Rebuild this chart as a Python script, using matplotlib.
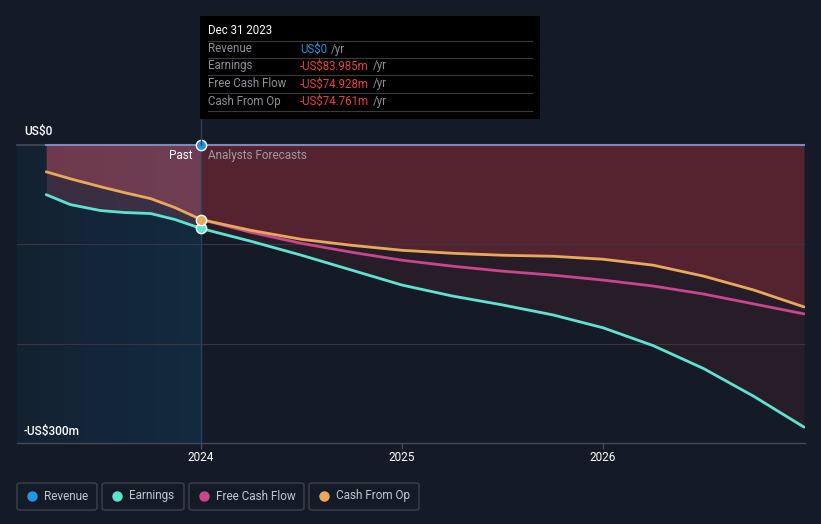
import numpy as np
import matplotlib
matplotlib.use("Agg")
import matplotlib.pyplot as plt
from matplotlib.patches import FancyBboxPatch, Rectangle
from matplotlib.lines import Line2D
from matplotlib.colors import LinearSegmentedColormap

plt.rcParams['font.family'] = ['Roboto', 'DejaVu Sans']

# data (US$m)
years = [2023.23, 2023.35, 2023.5, 2023.62, 2023.75, 2023.87, 2024.0,
         2024.25, 2024.5, 2024.75, 2025.0, 2025.25, 2025.5, 2025.75,
         2026.0, 2026.25, 2026.5, 2026.75, 2027.0]
revenue = [0] * len(years)
earnings = [-50, -60, -66, -68, -69, -75, -84, -97, -111, -126, -141,
            -152, -161, -171, -184, -202, -225, -253, -284]
fcf = [np.nan] * 6 + [-75, -88, -99, -108, -116, -122, -127, -131,
                      -136, -142, -150, -160, -170]
cash_op = [-27, -34, -42, -48, -54, -63, -75, -86, -95, -101, -106,
           -109, -111, -112, -115, -121, -132, -146, -163]

tick_years = [2024, 2025, 2026]
legend_names = ["Revenue", "Earnings", "Free Cash Flow", "Cash From Op"]
tooltip_vals = ["US$0", "-US$83.985m", "-US$74.928m", "-US$74.761m"]

bg = "#151b26"
c_rev = "#2394df"
c_earn = "#5ee3d1"
c_fcf = "#c9468c"
c_cop = "#e8a95b"
colors = [c_rev, c_earn, c_fcf, c_cop]

W, H = 821, 524
fig = plt.figure(figsize=(W / 100, H / 100), dpi=100, facecolor=bg)


def fx(px):
    return px / W


def fy(py):
    return 1 - py / H


ax = fig.add_axes([fx(17), fy(443), fx(805) - fx(17), fy(145) - fy(443)])
ax.set_facecolor(bg)
x0, x1 = 2024 - 184 / 201, 2024 + 604 / 201
ax.set_xlim(x0, x1)
ax.set_ylim(-300, 0)

# past shading gradient
grad = np.linspace(0.0, 1.0, 200).reshape(1, -1)
cmap = LinearSegmentedColormap.from_list("past", ["#142231", "#132a40"])
ax.imshow(grad, extent=[x0, 2024, -300, 0], aspect="auto", cmap=cmap, zorder=0)

yrs = np.array(years)
earn = np.array(earnings)
cop = np.array(cash_op)
past = yrs <= 2024.0
ax.fill_between(yrs, 0, cop, color="#c0303e", alpha=0.38, lw=0, zorder=1)
ax.fill_between(yrs, cop, earn, color="#b0303e", alpha=0.12, lw=0, zorder=1)
ax.fill_between(yrs[past], 0, cop[past], color="#e890b0", alpha=0.18, lw=0, zorder=1.2)
ax.fill_between(yrs[past], cop[past], earn[past], color="#d07090", alpha=0.12, lw=0, zorder=1.2)

for yv in [-100, -200]:
    ax.axhline(yv, color="#3a3540", lw=0.8, zorder=1.5)

ax.axvline(2024, color="#27415c", lw=1, zorder=2)

ax.plot(years, revenue, color="#7d88c0", lw=1.5, zorder=3, clip_on=False)
ax.plot([x0, years[0]], [0, 0], color="#3a4150", lw=1.5, zorder=2.5, clip_on=False)
kw = dict(lw=2.0, solid_joinstyle="round", solid_capstyle="round")
ax.plot(years, earnings, color=c_earn, zorder=4, **kw)
ax.plot(years, fcf, color=c_fcf, zorder=4, **kw)
ax.plot(years, cash_op, color=c_cop, zorder=5, **kw)

i24 = years.index(2024.0)
for series, col in [(revenue, c_rev), (earnings, c_earn), (cash_op, c_cop)]:
    ax.scatter([2024.0], [series[i24]], s=55, color=col, edgecolor="white",
               linewidth=1, zorder=6, clip_on=False)

for s in ["top", "right", "left"]:
    ax.spines[s].set_visible(False)
ax.spines["bottom"].set_color("#444a55")
ax.spines["bottom"].set_linewidth(1)
ax.set_yticks([])
ax.set_xticks(tick_years)
ax.set_xticklabels([str(t) for t in tick_years])
ax.tick_params(axis="x", colors="#444a55", length=4, width=1, labelcolor="white",
               labelsize=8.5, pad=2)

# vertical line up to tooltip
fig.add_artist(Line2D([fx(201), fx(201)], [fy(145), fy(119)], color="#27415c", lw=1))

fig.text(fx(24), fy(132), "US$0", color="white", fontsize=8.5, fontweight="medium", va="center")
fig.text(fx(24), fy(432), "-US$300m", color="white", fontsize=8.5, fontweight="medium", va="center")
fig.text(fx(192), fy(156), "Past", color="white", fontsize=8.5, ha="right", va="center")
fig.text(fx(208), fy(156), "Analysts Forecasts", color="#9a9ca6", fontsize=8.5, va="center")

# tooltip
fig.add_artist(Rectangle((fx(200), fy(119)), fx(540) - fx(200), fy(16) - fy(119),
                         facecolor="black", edgecolor="none", zorder=10))
fig.text(fx(208), fy(31), "Dec 31 2023", color="white", fontsize=8.3, va="center", zorder=11)
row_y = [49, 66, 84, 101]
for py in [41, 58, 75, 93, 111]:
    fig.add_artist(Line2D([fx(208), fx(532)], [fy(py), fy(py)], color="#3a3a3a", lw=0.8, zorder=11))
for name, val, py in zip(legend_names, tooltip_vals, row_y):
    fig.text(fx(208), fy(py), name, color="#8e9098", fontsize=8.3, va="center", zorder=11)
    vcol = c_rev if val == "US$0" else "#e8423f"
    t = fig.text(fx(300), fy(py), val, color=vcol, fontsize=8.3, va="center", zorder=11)
    fig.canvas.draw()
    bb = t.get_window_extent()
    fig.text(bb.x1 / W + fx(4), fy(py), "/yr", color="#8e9098", fontsize=8.3, va="center", zorder=11)

# legend boxes
boxes = [(17, 97), (102, 184), (189, 304), (309, 419)]
for (bx0, bx1), name, col in zip(boxes, legend_names, colors):
    fig.add_artist(FancyBboxPatch((fx(bx0), fy(510)), fx(bx1) - fx(bx0), fy(483) - fy(510),
                                  boxstyle="round,pad=0,rounding_size=0.004",
                                  facecolor="none", edgecolor="#3d424c", lw=1))
    fig.add_artist(Line2D([fx(bx0 + 15)], [fy(496)], marker="o", markersize=6.5,
                          color=col, linestyle="none"))
    fig.text(fx(bx0 + 27), fy(496), name, color="#c5c8ce", fontsize=8.5, va="center")

fig.savefig("out.png", dpi=100, facecolor=bg)
